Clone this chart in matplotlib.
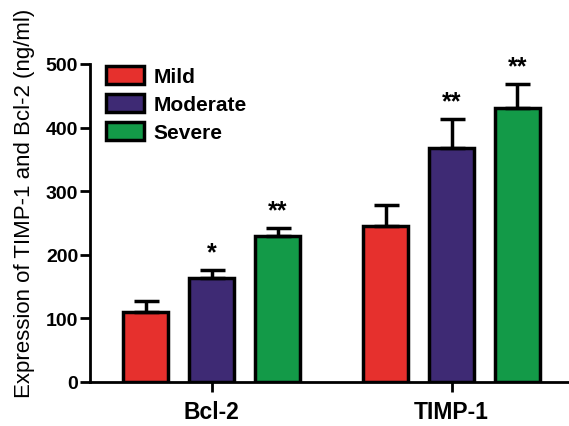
import numpy as np
import matplotlib
matplotlib.use("Agg")
import matplotlib.pyplot as plt

plt.rcParams['font.family'] = ['Liberation Sans', 'DejaVu Sans']

groups = ["Bcl-2", "TIMP-1"]
series = ["Mild", "Moderate", "Severe"]
colors = ["#e6302d", "#3e2a74", "#139a48"]

means = {
    "Mild":     [110, 245],
    "Moderate": [164, 368],
    "Severe":   [230, 431],
}
errs = {
    "Mild":     [17, 33],
    "Moderate": [12, 45],
    "Severe":   [12, 38],
}
stars = {
    "Mild":     ["", ""],
    "Moderate": ["*", "**"],
    "Severe":   ["**", "**"],
}

fig = plt.figure(figsize=(5.69, 4.27), dpi=100)
ax = fig.add_axes([90 / 569, 44 / 427, 1 - 90 / 569, 318 / 427])

x = np.arange(len(groups))
width = 0.1875
step = 0.275

for i, name in enumerate(series):
    pos = x + (i - 1) * step
    m = np.array(means[name])
    e = np.array(errs[name])
    ax.bar(pos, m, width, color=colors[i], edgecolor="black", linewidth=2.5,
           label=name, zorder=2)
    ax.errorbar(pos, m, yerr=[np.zeros_like(e), e], fmt="none", ecolor="black",
                elinewidth=2.5, capsize=9, capthick=2.5, zorder=3)
    for p, top, s in zip(pos, m + e, stars[name]):
        if s:
            ax.text(p, top + 9, s, ha="center", va="bottom", fontsize=18,
                    fontweight="bold", clip_on=False)

ax.set_xlim(-0.508, 1.49)
ax.set_ylim(0, 500)
ax.set_yticks([0, 100, 200, 300, 400, 500])
ax.set_xticks(x)
ax.set_xticklabels(groups, fontsize=16.5, fontweight="bold")
for lbl in ax.get_yticklabels():
    lbl.set_fontsize(14)
    lbl.set_fontweight("bold")
ax.tick_params(axis="both", width=2, length=7, direction="out")
ax.tick_params(axis="x", pad=6)
ax.tick_params(axis="y", pad=1.5)

for side in ["top", "right"]:
    ax.spines[side].set_visible(False)
for side in ["left", "bottom"]:
    ax.spines[side].set_linewidth(2)

ax.set_ylabel("Expression of TIMP-1 and Bcl-2 (ng/ml)", fontsize=16)
ax.yaxis.set_label_coords(-0.115, 0.566)

ax.legend(loc="upper left", bbox_to_anchor=(0.033, 0.994), frameon=False,
          prop={"size": 15, "weight": "bold"}, handlelength=1.85,
          handleheight=0.95, handletextpad=0.45, labelspacing=0.38,
          borderpad=0, borderaxespad=0)

fig.savefig("out.png", dpi=100)
